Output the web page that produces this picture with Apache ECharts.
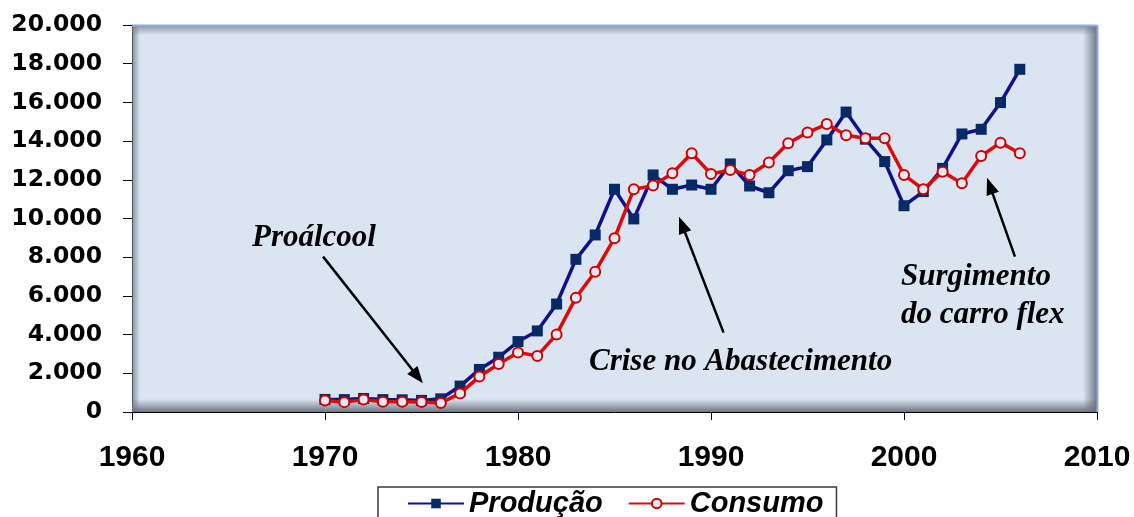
<!DOCTYPE html>
<html>
<head>
<meta charset="utf-8">
<title>Produção e Consumo</title>
<script src="https://cdn.jsdelivr.net/npm/echarts@6.0.0/dist/echarts.min.js"></script>
<style>
    html, body { margin: 0; padding: 0; background: #fff; }
    #chart { width: 1134px; height: 517px; }
</style>
</head>
<body>
<div id="chart"></div>
<script>
// dados (mil m3)
var anos = [1970, 1971, 1972, 1973, 1974, 1975, 1976, 1977, 1978, 1979,
            1980, 1981, 1982, 1983, 1984, 1985, 1986, 1987, 1988, 1989,
            1990, 1991, 1992, 1993, 1994, 1995, 1996, 1997, 1998, 1999,
            2000, 2001, 2002, 2003, 2004, 2005, 2006];
var producao = [650, 640, 700, 640, 630, 600, 680, 1340, 2200, 2830,
                3640, 4190, 5580, 7890, 9150, 11510, 9980, 12250, 11510, 11730,
                11510, 12820, 11680, 11330, 12470, 12680, 14060, 15500, 14100, 12940,
                10660, 11390, 12590, 14370, 14610, 15990, 17710];
var consumo = [590, 510, 640, 530, 530, 520, 470, 960, 1830, 2480,
               3070, 2900, 4010, 5910, 7250, 8980, 11510, 11700, 12340, 13370,
               12300, 12510, 12250, 12890, 13890, 14440, 14880, 14300, 14150, 14150,
               12250, 11510, 12420, 11820, 13230, 13920, 13370];
var nomes = ['Produção', 'Consumo'];

// setas das anotacoes (em coordenadas dos eixos)
var setas = [
    [[1969.9, 8030], [1974.8, 1830]],
    [[1990.65, 4100], [1988.5, 9680]],
    [[2005.75, 8030], [2004.45, 11690]]
];

function par(lista){
    return lista.map(function(v, i){ return [anos[i], v]; });
}

// area do grafico
var G = { left: 132, top: 25, right: 1097, bottom: 412 };
var W = G.right - G.left, H = G.bottom - G.top;

var myChart = echarts.init(document.getElementById('chart'));

var fonteTexto = 'bold italic 31px "Liberation Serif", "Times New Roman", serif';

myChart.setOption({
    animation: false,
    backgroundColor: '#fff',
    grid: {
        left: G.left, top: G.top, right: 1134 - G.right, bottom: 517 - G.bottom,
        containLabel: false,
        outerBoundsMode: 'none',
        show: true,
        backgroundColor: '#dbe5f1',
        borderWidth: 0
    },
    legend: {
        data: nomes,
        left: 378,
        top: 487,
        selectedMode: false,
        backgroundColor: '#fff',
        borderColor: '#3a3a3a',
        borderWidth: 1.5,
        borderRadius: 0,
        padding: [2, 13, 10, 29],
        itemWidth: 56,
        itemHeight: 12,
        itemGap: 25,
        textStyle: {
            fontFamily: '"Liberation Sans", Arial, sans-serif',
            fontWeight: 'bold',
            fontStyle: 'italic',
            fontSize: 29,
            color: '#000'
        }
    },
    xAxis: {
        type: 'value',
        min: 1960,
        max: 2010,
        interval: 10,
        splitLine: { show: false },
        axisLine: { show: true, onZero: false, lineStyle: { color: '#000', width: 1 } },
        axisTick: { show: true, length: 8, lineStyle: { color: '#000' } },
        axisLabel: {
            margin: 31,
            fontFamily: '"Liberation Sans", Arial, sans-serif',
            fontWeight: 'bold',
            fontSize: 30,
            color: '#000',
            formatter: function(v){ return String(v); }
        }
    },
    yAxis: {
        type: 'value',
        min: 0,
        max: 20000,
        interval: 2000,
        splitLine: { show: false },
        axisLine: { show: true, lineStyle: { color: '#000', width: 1 } },
        axisTick: { show: true, length: 9, lineStyle: { color: '#000' } },
        axisLabel: {
            margin: 30,
            fontFamily: '"DejaVu Sans", sans-serif',
            fontWeight: 'bold',
            fontSize: 23.5,
            color: '#000',
            formatter: function(v){
                return v === 0 ? '0' : String(v).replace(/\B(?=(\d{3})+(?!\d))/g, '.');
            }
        }
    },
    graphic: [
        // sombra interna da area de plotagem
        { type: 'rect', z: 1, silent: true,
          shape: { x: G.left, y: G.top, width: W, height: 10 },
          style: { fill: new echarts.graphic.LinearGradient(0, 0, 0, 1, [
              { offset: 0, color: 'rgba(110,118,132,0.75)' },
              { offset: 1, color: 'rgba(110,118,132,0)' }]) } },
        { type: 'rect', z: 1, silent: true,
          shape: { x: G.left, y: G.bottom - 13, width: W, height: 13 },
          style: { fill: new echarts.graphic.LinearGradient(0, 0, 0, 1, [
              { offset: 0, color: 'rgba(105,112,125,0)' },
              { offset: 1, color: 'rgba(105,112,125,0.95)' }]) } },
        { type: 'rect', z: 1, silent: true,
          shape: { x: G.left, y: G.top, width: 8, height: H },
          style: { fill: new echarts.graphic.LinearGradient(0, 0, 1, 0, [
              { offset: 0, color: 'rgba(110,118,132,0.8)' },
              { offset: 1, color: 'rgba(110,118,132,0)' }]) } },
        { type: 'rect', z: 1, silent: true,
          shape: { x: G.right - 14, y: G.top, width: 14, height: H },
          style: { fill: new echarts.graphic.LinearGradient(0, 0, 1, 0, [
              { offset: 0, color: 'rgba(105,112,125,0)' },
              { offset: 1, color: 'rgba(105,112,125,0.95)' }]) } },
        { type: 'line', z: 1, silent: true,
          shape: { x1: G.left, y1: G.top + 0.5, x2: G.right, y2: G.top + 0.5 },
          style: { stroke: '#8eb0db', lineWidth: 2 } },
        { type: 'line', z: 1, silent: true,
          shape: { x1: G.right + 0.5, y1: G.top, x2: G.right + 0.5, y2: G.bottom },
          style: { stroke: '#8eb0db', lineWidth: 2 } },
        // textos das anotacoes
        { type: 'text', z: 5, left: 252, top: 222,
          style: { text: 'Proálcool', font: fonteTexto, fill: '#000' } },
        { type: 'text', z: 5, left: 589, top: 346,
          style: { text: 'Crise no Abastecimento', font: fonteTexto, fill: '#000' } },
        { type: 'text', z: 5, left: 901, top: 258,
          style: { text: 'Surgimento\ndo carro flex', font: fonteTexto, fill: '#000', lineHeight: 38 } }
    ],
    series: [
        {
            name: nomes[0],
            type: 'line',
            data: par(producao),
            symbol: 'rect',
            symbolSize: 11,
            z: 3,
            lineStyle: { color: '#10108c', width: 3.5 },
            itemStyle: { color: '#062a66' },
            markLine: {
                silent: true,
                symbol: ['none', 'triangle'],
                symbolSize: [13, 17],
                label: { show: false },
                lineStyle: { color: '#000', width: 2.5, type: 'solid' },
                emphasis: { disabled: true },
                data: setas.map(function(s){
                    return [{ coord: s[0] }, { coord: s[1] }];
                })
            }
        },
        {
            name: nomes[1],
            type: 'line',
            data: par(consumo),
            symbol: 'circle',
            symbolSize: 10,
            z: 4,
            lineStyle: { color: '#dd0a0a', width: 3.5 },
            itemStyle: { color: '#e4eaf4', borderColor: '#d00000', borderWidth: 2 }
        }
    ]
});
</script>
</body>
</html>
